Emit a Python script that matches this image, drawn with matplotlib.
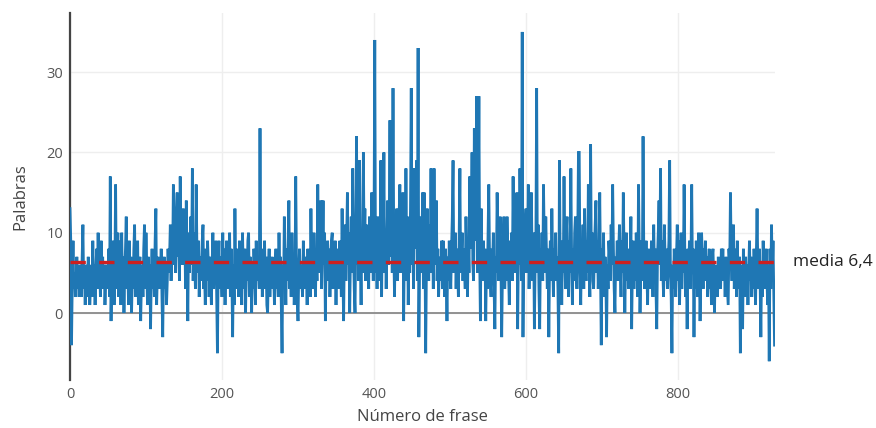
import matplotlib
matplotlib.use("Agg")
import matplotlib.pyplot as plt
import numpy as np

plt.rcParams['font.family'] = ['Open Sans', 'DejaVu Sans']

# Words per sentence, index = sentence number
palabras = [
    13, 9, -4, 4, 9, 3, 5, 2, 4, 7, 3, 5, 2, 6, 4, 2, 7, 11, 3, 5, 1, 6, 2, 4, 7, 5, 1, 3, 6, 2, 9, 4, 6, 1, 5, 8, 3, 10, 4, 6,
    2, 9, 5, 7, 3, 6, 1, 4, 6, 3, 5, 8, 2, 17, -1, 6, 4, 9, 1, 5, 16, 3, 7, 10, 2, 6, 9, 1, 10, 4, 7, 0, 5, 8, 12, 3, 6, 1, 9, 4,
    7, 0, 5, 3, 8, 11, 2, 6, 4, 9, 1, 5, 7, -1, 4, 6, 2, 8, 11, 3, 10, 5, 1, 7, 4, 6, -2, 5, 8, 3, 6, 2, 9, 13, 1, 5, 7, 3, 6, 4,
    8, 2, -3, 5, 7, 3, 6, 1, 4, 8, 5, 7, 11, 4, 9, 6, 16, 8, 11, 5, 13, 15, 7, 10, 4, 17, 9, 12, 6, 13, 8, 11, 3, 14, 7, -1, 10, 5, 9, 12,
    6, 18, 4, 10, 7, 3, 16, 8, 5, 9, 2, 7, 4, 6, 9, 11, 3, 5, 1, 8, 4, 9, 6, 2, 7, 5, 1, 6, 10, 3, 8, 4, 9, 2, -5, 6, 9, 3, 7, 5,
    2, 10, 4, 8, 1, 6, 9, 3, 7, 5, 10, 2, 8, 4, -3, 6, 1, 13, 5, 3, 8, 6, 2, 9, 4, 7, 1, 10, 5, 3, 8, 0, 6, 4, 9, 10, 2, 7, 5, 0,
    6, 3, 8, 5, 1, 9, 4, 7, 6, 3, 23, 5, 8, 2, 6, 4, 9, 3, 7, 1, 0, 5, 8, 2, 6, 4, 7, 3, 5, 1, 6, 8, 3, 5, 2, 10, 4, 7, 1, -5,
    6, 3, 12, 5, 1, 8, 4, 9, 14, 3, 6, 2, 10, 5, 7, 1, 4, 17, 6, 2, -1, 5, 8, 3, 6, 4, 2, 9, 5, 7, 3, 6, 1, 8, 4, 6, 2, 13, 5, 8,
    3, 10, 6, 2, 8, 4, 16, 7, 5, 9, 14, 3, 8, 14, 6, 10, -1, 7, 4, 9, 5, 8, 2, 6, 9, 10, 3, 7, 5, 9, 1, 8, 4, 7, 3, 9, 6, 2, 13, 5,
    -1, 8, 11, 4, 9, 15, 6, 10, 0, 7, 12, 5, 18, 8, 3, 0, 9, 22, 6, 12, 4, 19, 7, 1, 10, 5, 20, 8, 13, 4, 11, 6, 9, 3, 12, 7, 5, 15, 8, 4,
    10, 34, 5, 9, 3, 12, 6, 8, 4, 19, 2, 11, 7, 20, 5, 10, 3, 9, 14, 6, 11, 24, 7, 13, 5, 28, 8, 2, 10, 6, 13, 4, 9, 12, 16, 5, 11, 7, 15, -1,
    9, 4, 18, 7, 12, 1, 8, 5, 13, 28, 6, 10, 3, 18, 8, 11, 19, 4, 33, -3, 7, 12, 5, 9, 15, 3, 15, 8, -5, 6, 13, 9, 4, 11, 7, 18, 5, 10, 3, 18,
    6, 9, 14, 4, 8, 2, 7, 5, 4, 9, 3, 9, 6, 2, 8, 5, -1, 7, 4, 9, 6, 3, 8, 12, 19, 5, 7, 10, 3, 8, 6, 2, 9, 18, 5, 7, 10, 4, 8, 6,
    3, 12, 7, 2, 9, 5, 17, 8, 11, 20, 6, 4, 23, 9, 13, 27, 5, 10, 27, 7, -1, 13, 6, 4, 9, 5, 8, -1, 6, 3, 10, 16, 7, 4, 2, 8, 6, 10, 3, -2,
    7, 5, 15, 9, 4, 8, 12, 6, -3, 5, 9, 12, 3, 7, 4, 12, 8, 5, 1, 9, 6, 10, 4, 17, 7, 11, 5, 9, 15, -2, 8, 6, 18, 10, 4, 35, -3, 9, 6, 11,
    13, 5, 8, 16, 3, 9, 6, 15, 7, 4, 10, -2, 6, 9, 28, 5, 11, 3, -2, 8, 6, 10, 4, 16, 9, 5, 12, 7, 3, 8, -3, 6, 9, 4, 13, 7, 2, 8, 5, 10,
    4, 7, 3, -5, 19, 6, 9, 1, 8, 5, 17, 7, 3, 10, 12, 6, 2, 9, 5, 18, 7, 1, 8, 4, 10, 12, 6, 3, 9, 20, 20, 5, 1, 8, 6, 11, 3, 13, 7, 4,
    9, 5, 16, 7, 2, 21, 6, 10, 4, 3, 8, 11, 14, 5, 9, 3, 7, 15, 6, -4, 8, 4, 10, 2, 7, 5, -3, 6, 3, 9, 7, 4, 11, 6, 16, 8, 3, 0, 7, 5,
    9, 4, 8, 11, 6, 2, 9, 5, 15, 7, 0, 6, 10, 4, 8, 3, 7, 5, 12, -2, 6, 9, 3, 7, 4, 10, 6, 2, 16, 8, 0, 5, 9, 4, 22, 7, 3, 6, 9, 5,
    1, 8, 4, 7, 3, 9, 6, 2, 11, 5, 8, 3, -2, 7, 10, 14, 6, 18, 4, 9, 5, 2, 11, 7, 4, 8, 3, 6, 9, 19, 5, 2, -5, 6, 3, 8, 5, 2, 7, 11,
    4, 9, 1, 6, 10, 3, 8, 5, 16, 7, 2, 6, -2, 8, 4, 9, 3, 6, 16, 5, 8, -3, 6, 3, 9, 5, 2, 10, 6, -1, 4, 10, 7, 3, 8, 5, 9, 4, 7, 2,
    6, 8, 3, 5, 1, 7, 8, 4, 0, 6, 3, 5, 2, 7, 4, 6, 3, 8, 5, 8, 4, 6, 2, 7, 5, 3, 1, 8, 6, 15, 7, 4, 9, 11, 3, 6, 8, 2, 9, 5,
    3, 7, -5, 6, 4, -2, 8, 5, 2, 7, 3, 6, 1, 5, 9, 4, 7, 2, 6, 3, 8, 5, 1, 7, 13, 6, 3, 8, 4, -3, 6, 2, 9, 5, 7, 3, 8, 4, 1, 6,
    -6, 8, 3, 11, 5, 9, 2, -4,
]
frase = list(range(len(palabras)))
media = 6.4
media_label = "media 6,4"

x_ticks = [0, 200, 400, 600, 800]
y_ticks = [0, 10, 20, 30]

fig = plt.figure(figsize=(8.76, 4.28), dpi=100)
ax = fig.add_axes([70/876, 1-380/428, (775-70)/876, (380-13)/428])

ax.plot(frase, palabras, color='#1f77b4', lw=2.0, solid_joinstyle='miter', zorder=3)
ax.plot([frase[0], frase[-1] + 1], [media, media], color='#cc2020', lw=2.4,
        dashes=(4.6, 4.0), zorder=4)

ax.set_xlim(0, 927.6)
ax.set_ylim(-8.34, 37.36)

ax.set_xticks(x_ticks)
ax.set_yticks(y_ticks)
ax.grid(True, color='#eeeeee', lw=1, zorder=0)
ax.axhline(0, color='#8a8a8a', lw=1.3, zorder=2)
ax.tick_params(length=0, labelsize=10.5, colors='#555555', pad=5)
for s in ['top', 'right', 'bottom']:
    ax.spines[s].set_visible(False)
ax.spines['left'].set_color('#444444')
ax.spines['left'].set_linewidth(1.6)

ax.set_xlabel('Número de frase', fontsize=12, color='#444444', labelpad=5)
ax.set_ylabel('Palabras', fontsize=12, color='#444444', labelpad=13)

ax.text(1.025, (media - (-8.34)) / (37.36 + 8.34), media_label, transform=ax.transAxes,
        fontsize=12.5, color='#222222', va='center', ha='left')

fig.savefig('out.png', dpi=100)
